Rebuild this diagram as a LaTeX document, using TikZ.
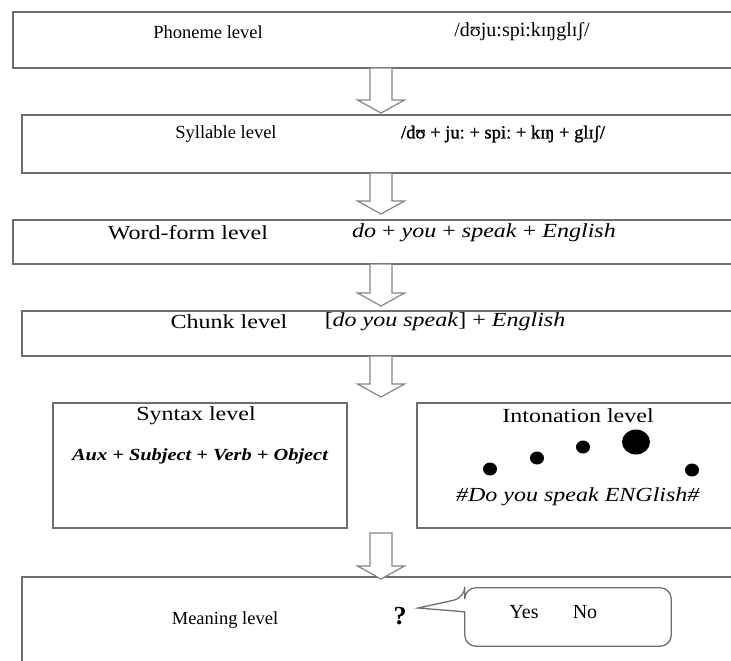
\documentclass[tikz,border=0pt]{standalone}
\usepackage{fontspec}
\setmainfont{Liberation Serif}
\newfontfamily\wideserif{Liberation Serif}[FakeStretch=1.2]
\newfontfamily\heavyserif{Liberation Serif}[FakeBold=1.2]
\usetikzlibrary{calc}
\definecolor{framegray}{HTML}{6E6E6E}
\definecolor{arrowgray}{HTML}{858585}

% hollow block arrow pointing down: #1 = top of the shaft, #2 = tip
\newcommand{\hollowarrow}[2]{%
  \draw[blockarrow] let \p1=(#1), \p2=(#2) in
    (\x1-11pt,\y1) -- (\x1-11pt,\y2+13pt) -- (\x1-23.5pt,\y2+13pt) -- (\x1,\y2)
    -- (\x1+23.5pt,\y2+13pt) -- (\x1+11pt,\y2+13pt) -- (\x1+11pt,\y1) -- cycle;}

\begin{document}
\begin{tikzpicture}[x=1pt,y=-1pt,
  level/.style={draw=framegray, line width=1.3pt, anchor=north west,
                inner sep=0pt, outer sep=0pt},
  blockarrow/.style={draw=arrowgray, line width=1.2pt, fill=white, line join=miter},
  small/.style={font=\fontsize{18.5}{20}\selectfont, inner sep=0pt},
  large/.style={font=\wideserif\fontsize{20}{22}\selectfont, inner sep=0pt},
  bubbleline/.style={draw=framegray, line width=1.3pt}]
\useasboundingbox (0,0) rectangle (731,661);
\clip (0,0) rectangle (731,661);
\fill[white] (0,0) rectangle (731,661);

\coordinate (axis) at (381,0);

% level boxes (they run on past the right edge)
\node[level, minimum width=760pt, minimum height=56pt] (phoneme) at (13,12) {};
\node[level, minimum width=760pt, minimum height=58pt] (syllable) at (22,115) {};
\node[level, minimum width=760pt, minimum height=44pt] (wordform) at (13,220) {};
\node[level, minimum width=760pt, minimum height=45pt] (chunk) at (22,311) {};
\node[level, minimum width=294pt, minimum height=125pt] (syntax) at (53,403) {};
\node[level, minimum width=400pt, minimum height=125pt] (intonation) at (417,403) {};
\node[level, minimum width=760pt, minimum height=120pt] (meaning) at (22,577) {};

% arrows between the levels
\hollowarrow{phoneme.south -| axis}{$(syllable.north -| axis)+(0,-2)$}
\hollowarrow{syllable.south -| axis}{$(wordform.north -| axis)+(0,-6)$}
\hollowarrow{wordform.south -| axis}{$(chunk.north -| axis)+(0,-5)$}
\hollowarrow{chunk.south -| axis}{$(syntax.north -| axis)+(0,-6)$}
\hollowarrow{$(syntax.south -| axis)+(0,5)$}{$(meaning.north -| axis)+(0,2)$}

% level texts
\node[small] (phonemeT) at (208,32) {Phoneme level};
\node[font=\fontsize{20}{22}\selectfont, inner sep=0pt] (phonemeI) at (522,32) {/dʊju:spi:kɪŋglɪʃ/};
\node[small] (syllableT) at (226,134) {Syllable level};
\node[font=\heavyserif\fontsize{18.5}{20}\selectfont, inner sep=0pt] (syllableI) at (503,134) {/dʊ + juː + spiː + kɪŋ + glɪʃ/};
\node[large] (wordformT) at (188,233) {Word-form level};
\node[large] (wordformI) at (484,233) {\textit{do} + \textit{you} + \textit{speak} + \textit{English}};
\node[large] (chunkT) at (229,322) {Chunk level};
\node[large] (chunkI) at (445,322) {{[}\textit{do you speak}{]} + \textit{English}};
\node[large] (syntaxT) at (196,416) {Syntax level};
\node[font=\wideserif\fontsize{17}{19}\selectfont\bfseries\itshape, inner sep=0pt] (syntaxI)
  at (200,456) {Aux + Subject + Verb + Object};
\node[large] (intonationT) at (578,416) {Intonation level};
\node[large] (intonationI) at (578,497) {\textit{\#Do you speak ENGlish\#}};

% pitch dots
\fill (490,469) ellipse [x radius=7pt, y radius=6.5pt];
\fill (537,458) ellipse [x radius=7pt, y radius=6.5pt];
\fill (583,447) ellipse [x radius=7pt, y radius=6.5pt];
\fill (636,442) ellipse [x radius=14pt, y radius=12.5pt];
\fill (692,470) ellipse [x radius=7pt, y radius=6.5pt];

% meaning level with the speech bubble
\node[small] (meaningT) at (225,620) {Meaning level};
\node[font=\fontsize{26}{28}\selectfont\bfseries, inner sep=0pt] (qmark) at (400,616) {?};
\node[minimum width=206pt, minimum height=58pt, inner sep=0pt] (bubble) at (568,617) {};
\coordinate (tip) at (418,608);
\draw[bubbleline] ($(bubble.north west)+(0,24)$) [rounded corners=11pt]
  -- (bubble.south west) -- (bubble.south east) -- (bubble.north east)
  -- (bubble.north west) -- ($(bubble.north west)+(0,10)$) [sharp corners]
  -- (tip) -- ($(bubble.north west)+(0,24)$);
\node[font=\fontsize{20}{22}\selectfont, inner sep=0pt] (yes) at (524,612) {Yes};
\node[font=\fontsize{20}{22}\selectfont, inner sep=0pt] (no) at (585,612) {No};
\end{tikzpicture}
\end{document}
